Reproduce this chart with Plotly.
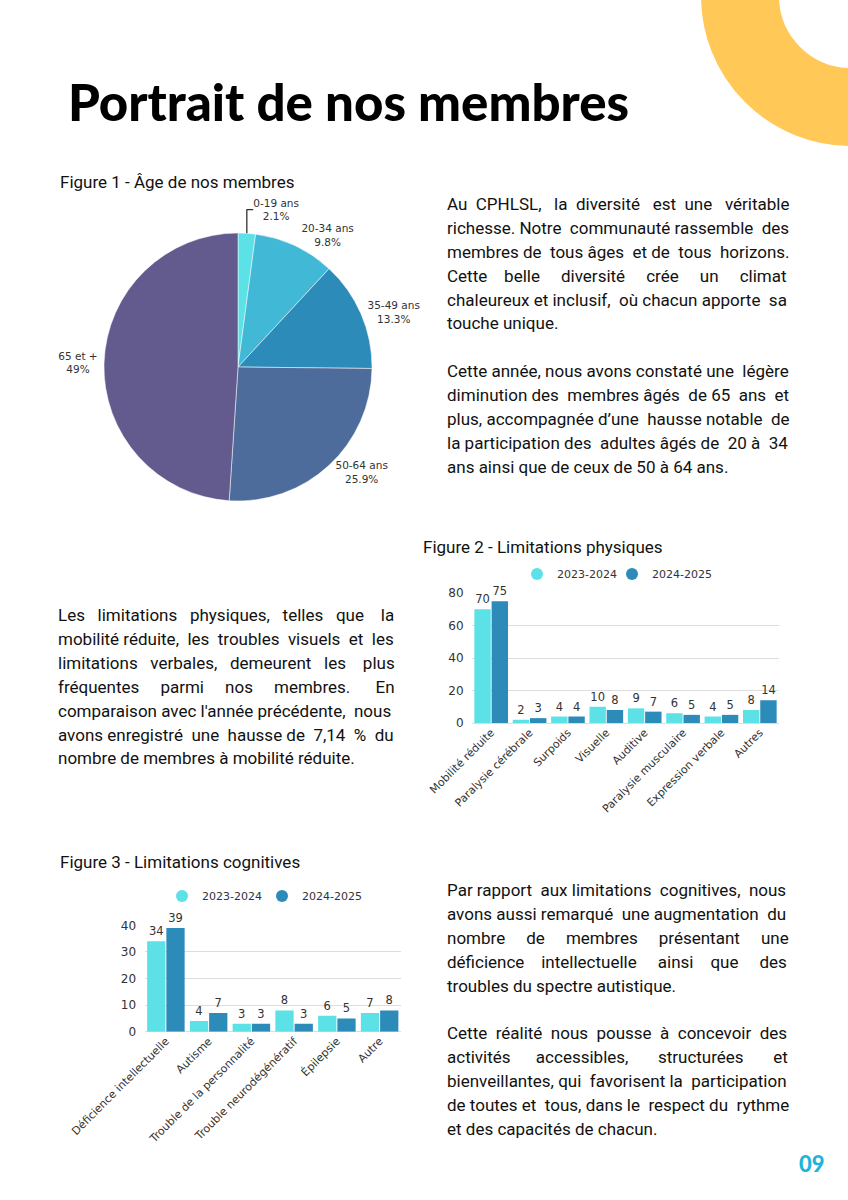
import plotly.graph_objects as go

W, H = 848, 1200

# ---------------- data ----------------
age_labels = ["0-19 ans", "20-34 ans", "35-49 ans", "50-64 ans", "65 et +"]
age_values = [2.1, 9.8, 13.3, 25.9, 49]
age_colors = ["#5CE1E6", "#41B8D5", "#2D8BBA", "#4E6C9B", "#635A8E"]

years = ["2023-2024", "2024-2025"]
year_colors = ["#5CE1E6", "#2D8BBA"]

phys_cats = ["Mobilité réduite", "Paralysie cérébrale", "Surpoids", "Visuelle",
             "Auditive", "Paralysie musculaire", "Expression verbale", "Autres"]
phys_2324 = [70, 2, 4, 10, 9, 6, 4, 8]
phys_2425 = [75, 3, 4, 8, 7, 5, 5, 14]

cog_cats = ["Déficience intellectuelle", "Autisme", "Trouble de la personnalité",
            "Trouble neurodégénératif", "Épilepsie", "Autre"]
cog_2324 = [34, 4, 3, 8, 6, 7]
cog_2425 = [39, 7, 3, 3, 5, 8]

title_text = "Portrait de nos membres"
fig_titles = ["Figure 1 - Âge de nos membres",
              "Figure 2 - Limitations physiques",
              "Figure 3 - Limitations cognitives"]

para1 = ["Au CPHLSL, la diversité est une véritable",
         "richesse. Notre communauté rassemble des",
         "membres de tous âges et de tous horizons.",
         "Cette belle diversité crée un climat",
         "chaleureux et inclusif, où chacun apporte sa",
         "touche unique.",
         "",
         "Cette année, nous avons constaté une légère",
         "diminution des membres âgés de 65 ans et",
         "plus, accompagnée d’une hausse notable de",
         "la participation des adultes âgés de 20 à 34",
         "ans ainsi que de ceux de 50 à 64 ans."]
para2 = ["Les limitations physiques, telles que la",
         "mobilité réduite, les troubles visuels et les",
         "limitations verbales, demeurent les plus",
         "fréquentes parmi nos membres. En",
         "comparaison avec l'année précédente, nous",
         "avons enregistré une hausse de 7,14 % du",
         "nombre de membres à mobilité réduite."]
para3 = ["Par rapport aux limitations cognitives, nous",
         "avons aussi remarqué une augmentation du",
         "nombre de membres présentant une",
         "déficience intellectuelle ainsi que des",
         "troubles du spectre autistique.",
         "",
         "Cette réalité nous pousse à concevoir des",
         "activités accessibles, structurées et",
         "bienveillantes, qui favorisent la participation",
         "de toutes et tous, dans le respect du rythme",
         "et des capacités de chacun."]
page_number = "09"

# ---------------- helpers ----------------
def px(x):
    return x / W

def py(y):
    return 1 - y / H

CHART_FONT = "DejaVu Sans"
BODY_FONT = "Roboto"
BODY_SIZE = 17
TXT = "#333333"

# approximate Roboto Regular advance widths (em) used to justify lines
_RW = {' ': .248, 'a': .544, 'b': .561, 'c': .523, 'd': .563, 'e': .529, 'f': .347,
       'g': .561, 'h': .551, 'i': .243, 'j': .239, 'k': .507, 'l': .243, 'm': .876,
       'n': .552, 'o': .570, 'p': .561, 'q': .568, 'r': .338, 's': .516, 't': .327,
       'u': .551, 'v': .484, 'w': .751, 'x': .496, 'y': .473, 'z': .496,
       ',': .197, '.': .263, "'": .170, '’': .200, '%': .733, '-': .276,
       'A': .653, 'C': .652, 'P': .632, 'H': .713, 'L': .539, 'S': .615, 'N': .713,
       'E': .568, 'R': .616, 'T': .611}
_ACC = {'é': 'e', 'è': 'e', 'ê': 'e', 'à': 'a', 'â': 'a', 'ù': 'u', 'û': 'u', 'î': 'i',
        'ô': 'o', 'ç': 'c'}

def text_width(s, size):
    w = 0.0
    for ch in s:
        ch2 = _ACC.get(ch, ch)
        w += .562 if ch2.isdigit() else _RW.get(ch2, .55)
    return w * size

def justify(line, target):
    words = line.split(" ")
    gaps = len(words) - 1
    if gaps <= 0:
        return line
    extra = target - text_width(line, BODY_SIZE)
    n = int(round(extra / (_RW[' '] * BODY_SIZE)))
    if n <= 0:
        return line
    out = words[0]
    for i, wd in enumerate(words[1:]):
        k = ((i + 1) * n) // gaps - (i * n) // gaps  # spread evenly
        out += " " + "\u00a0" * k + wd
    return out

fig = go.Figure()

# Pie
fig.add_trace(go.Pie(
    labels=age_labels, values=age_values, sort=False, direction="clockwise",
    rotation=0, marker=dict(colors=age_colors, line=dict(color="white", width=0.5)),
    textposition="outside", texttemplate="%{label}<br>%{value}%",
    textfont=dict(family=CHART_FONT, size=10.5, color=TXT),
    domain=dict(x=[px(104), px(372)], y=[py(501), py(233)]),
    showlegend=False, hoverinfo="label+value", automargin=False,
))

# Figure 2 bars
for vals, name, col in zip([phys_2324, phys_2425], years, year_colors):
    fig.add_trace(go.Bar(
        x=phys_cats, y=vals, name=name, marker=dict(color=col, line=dict(width=0)),
        text=vals, textposition="outside", constraintext="none", cliponaxis=False,
        textfont=dict(family=CHART_FONT, size=11.5, color=TXT),
        xaxis="x", yaxis="y", showlegend=False,
    ))
# Figure 3 bars
for vals, name, col in zip([cog_2324, cog_2425], years, year_colors):
    fig.add_trace(go.Bar(
        x=cog_cats, y=vals, name=name, marker=dict(color=col, line=dict(width=0)),
        text=vals, textposition="outside", constraintext="none", cliponaxis=False,
        textfont=dict(family=CHART_FONT, size=11.5, color=TXT),
        xaxis="x2", yaxis="y2", showlegend=False,
    ))

# legend entries (circle markers), one legend box per entry
legend_ids = [["legend", "legend2"], ["legend3", "legend4"]]
for k, (xa, ya) in enumerate([("x", "y"), ("x2", "y2")]):
    for name, col, lid in zip(years, year_colors, legend_ids[k]):
        fig.add_trace(go.Scatter(x=[None], y=[None], mode="markers", name=name,
                                 marker=dict(symbol="circle", size=12, color=col),
                                 xaxis=xa, yaxis=ya, legend=lid, hoverinfo="skip"))

axis_common = dict(
    showgrid=True, gridcolor="#DDDDDD", gridwidth=1,
    zeroline=True, zerolinecolor="#DDDDDD", zerolinewidth=1,
    tickfont=dict(family=CHART_FONT, size=12, color=TXT),
    showline=False, ticks="outside", ticklen=5, tickcolor="rgba(0,0,0,0)",
    fixedrange=True, automargin=False,
)
xaxis_common = dict(
    showgrid=False, zeroline=False, showline=False, ticks="", tickangle=-45,
    tickfont=dict(family=CHART_FONT, size=11, color=TXT), fixedrange=True,
    automargin=False,
)

def leg(x, y):
    return dict(x=px(x), y=py(y), orientation="h", bgcolor="rgba(0,0,0,0)",
                font=dict(family=CHART_FONT, size=11, color=TXT),
                xanchor="left", yanchor="middle", itemwidth=30)

fig.update_layout(
    width=W, height=H, margin=dict(l=0, r=0, t=0, b=0, pad=0, autoexpand=False),
    paper_bgcolor="white", plot_bgcolor="white",
    barmode="group", bargap=0.1, bargroupgap=0.05,
    xaxis=dict(domain=[px(472), px(779)], anchor="y", **xaxis_common),
    yaxis=dict(domain=[py(723), py(593)], anchor="x", range=[0, 80], dtick=20, **axis_common),
    xaxis2=dict(domain=[px(144.5), px(401)], anchor="y2", **xaxis_common),
    yaxis2=dict(domain=[py(1031.7), py(925.3)], anchor="x2", range=[0, 40], dtick=10, **axis_common),
    legend=leg(517, 574), legend2=leg(612, 574),
    legend3=leg(162, 896), legend4=leg(262, 896),
    showlegend=True,
)

# decorative yellow ring (top-right)
cx, cy, r_mid, thick = 851, -4, 111, 78
fig.add_shape(type="circle", xref="paper", yref="paper",
              x0=px(cx - r_mid), x1=px(cx + r_mid), y0=py(cy + r_mid), y1=py(cy - r_mid),
              line=dict(color="#FFC857", width=thick), fillcolor="rgba(0,0,0,0)", layer="below")

annotations = []
annotations.append(dict(text=title_text, x=px(66), y=py(101), xref="paper", yref="paper",
                        xanchor="left", yanchor="middle", showarrow=False,
                        font=dict(family="Lato", size=51, color="#000000", weight=900)))
for t, (x, y) in zip(fig_titles, [(58, 182), (421, 547), (58, 862)]):
    annotations.append(dict(text=t, x=px(x), y=py(y), xref="paper", yref="paper",
                            xanchor="left", yanchor="middle", showarrow=False,
                            font=dict(family=BODY_FONT, size=17, color="#111111")))

def add_para(lines, x, x_right, y0, step=23.9):
    for i, line in enumerate(lines):
        if not line:
            continue
        last = (i == len(lines) - 1) or (lines[i + 1] == "")
        txt = line if last else justify(line, x_right - x)
        annotations.append(dict(text=txt, x=px(x), y=py(y0 + i * step), xref="paper", yref="paper",
                                xanchor="left", yanchor="middle", showarrow=False,
                                font=dict(family=BODY_FONT, size=BODY_SIZE, color="#111111")))

add_para(para1, 445, 786, 204)
add_para(para2, 56, 391, 615)
add_para(para3, 445, 786, 890)

annotations.append(dict(text=page_number, x=px(812), y=py(1163), xref="paper", yref="paper",
                        xanchor="center", yanchor="middle", showarrow=False,
                        font=dict(family="Lato", size=22, color="#1FB5D8", weight=900)))

fig.update_layout(annotations=annotations)

fig.write_html("out.html", config={"displayModeBar": False},
               post_script="document.body.style.margin='0px';")
